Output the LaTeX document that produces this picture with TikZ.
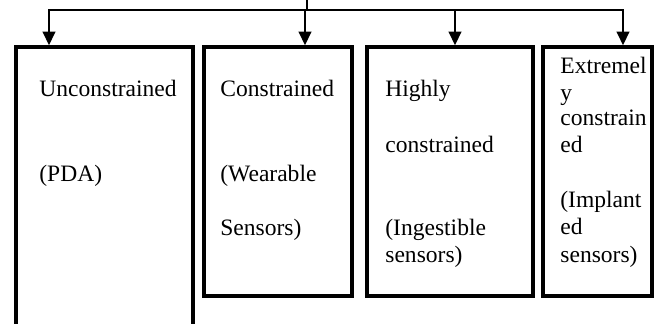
\documentclass[tikz,border=0pt]{standalone}
\usepackage{fontspec}
\setmainfont{Liberation Serif}
\usetikzlibrary{arrows.meta,fit}

\begin{document}
\begin{tikzpicture}[x=0.51pt, y=-0.51pt,
    box/.style={draw, line width=1.8pt, inner sep=0pt},
    txt/.style={anchor=base west, inner sep=0pt, font=\fontsize{12}{14}\selectfont},
    wire/.style={line width=1.1pt, line cap=rect},
    arr/.style={wire, -{Triangle[length=7pt,width=6.5pt]}}]
    \useasboundingbox (0,0) rectangle (659,324);
    \clip (0,0) rectangle (659,324);

    % the four classes
    \node[box, fit={(16,47) (193,345)}] (unc) {};
    \node[box, fit={(204,47) (352,296)}] (con) {};
    \node[box, fit={(367,47) (533,296)}] (high) {};
    \node[box, fit={(543,47) (652,296)}] (ext) {};

    \node[txt] (u1) at (39,97) {Unconstrained};
    \node[txt] (u2) at (39,182) {(PDA)};

    \node[txt] (c1) at (220,97) {Constrained};
    \node[txt] (c2) at (220,182) {(Wearable};
    \node[txt] (c3) at (220,235) {Sensors)};

    \node[txt] (h1) at (385,97) {Highly};
    \node[txt] (h2) at (385,152) {constrained};
    \node[txt] (h3) at (385,235) {(Ingestible};
    \node[txt] (h4) at (385,262) {sensors)};

    \node[txt] (e1) at (560,74) {Extremel};
    \node[txt] (e2) at (560,100) {y};
    \node[txt] (e3) at (560,126) {constrain};
    \node[txt] (e4) at (560,152) {ed};
    \node[txt] (e5) at (560,207) {(Implant};
    \node[txt] (e6) at (560,234) {ed};
    \node[txt] (e7) at (560,262) {sensors)};

    % bus from the top
    \coordinate (hub) at (307,0);
    \coordinate (j1) at (49,10);
    \coordinate (j2) at (305,10);
    \coordinate (j3) at (455,10);
    \coordinate (j4) at (623,10);

    \draw[wire] (hub) -- (hub |- j1);
    \draw[wire] (j1) -- (j4);

    \draw[arr] (j1) -- (j1 |- unc.north);
    \draw[arr] (j2) -- (j2 |- con.north);
    \draw[arr] (j3) -- (j3 |- high.north);
    \draw[arr] (j4) -- (j4 |- ext.north);
\end{tikzpicture}
\end{document}
